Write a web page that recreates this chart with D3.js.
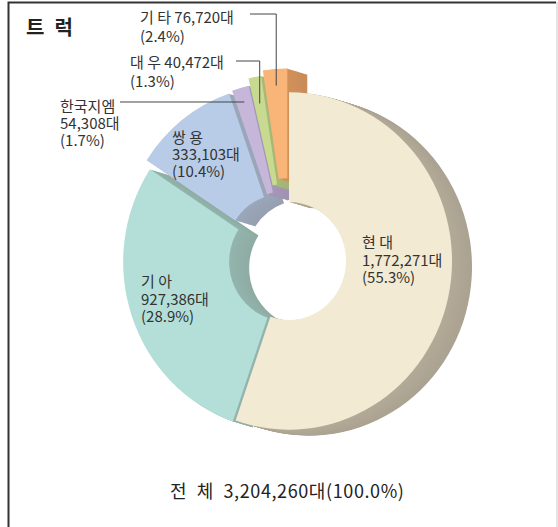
<!DOCTYPE html>
<html>
<head>
<meta charset="utf-8">
<script src="https://cdn.jsdelivr.net/npm/d3@7"></script>
<style>
body{margin:0;background:#fff;}
text{font-family:"Noto Sans CJK KR","Noto Sans",sans-serif;}
</style>
</head>
<body>
<svg id="chart" width="558" height="527"></svg>
<script>
// data
var makers = ["현 대", "기 아", "쌍 용", "한국지엠", "대 우", "기 타"];
var units = [1772271, 927386, 333103, 54308, 40472, 76720];
var shares = [55.3, 28.9, 10.4, 1.7, 1.3, 2.4];
var totalUnits = 3204260;
var totalShare = 100.0;

// styles
var frontColors = ["#f2ead3", "#b3dfd8", "#b8cce8", "#c6b7da", "#c8da90", "#f9b577"];
var sideColors = ["#b3aa98", "#93b5ad", "#9ba7bb", "#a697b9", "#a8b978", "#d39159"];
var explode = [0, 3, 10, 11, 18, 23];

var svg = d3.select("#chart");
var fmt = d3.format(",");

// frame
svg.append("path")
    .attr("d", "M8.5,527V2.5H556")
    .attr("fill", "none")
    .attr("stroke", "#333")
    .attr("stroke-width", 2);
svg.append("line")
    .attr("x1", 557).attr("x2", 557).attr("y1", 2).attr("y2", 527)
    .attr("stroke", "#ddd").attr("stroke-width", 1.5);

// title
svg.append("text")
    .attr("x", 26).attr("y", 35)
    .attr("font-size", 20).attr("font-weight", "bold").attr("fill", "#222")
    .text("트\u2002럭");

var cx = 289, cy = 261, R = 163, r = 57, sy = 1.035;
var g = svg.append("g")
    .attr("transform", "translate(" + cx + "," + cy + ") scale(1," + sy + ")");

var pie = d3.pie().sort(null).value(function(d){ return d; });
var slices = pie(units);
var arc = d3.arc().innerRadius(r).outerRadius(R);

function shift(d, i){
    var a = (d.startAngle + d.endAngle) / 2;
    return [Math.sin(a) * explode[i], -Math.cos(a) * explode[i]];
}

// 3d sides: stacked copies pushed to the right / down
var depth = 20, ddx = 20, ddy = 6 / sy;
for (let k = depth; k >= 1; k--) {
    g.append("g").selectAll("path")
        .data(slices)
        .enter()
        .append("path")
        .attr("d", arc)
        .attr("fill", function(d, i){
            return d3.interpolateRgb(sideColors[i], "#6f6a60")(0.12 * k / depth);
        })
        .attr("transform", function(d, i){
            var s = shift(d, i);
            return "translate(" + (s[0] + ddx * k / depth) + "," + (s[1] + ddy * k / depth) + ")";
        });
}

// front faces
g.append("g").selectAll("path")
    .data(slices)
    .enter()
    .append("path")
    .attr("d", arc)
    .attr("fill", function(d, i){ return frontColors[i]; })
    .attr("transform", function(d, i){
        var s = shift(d, i);
        return "translate(" + s[0] + "," + s[1] + ")";
    });

// point on a slice in screen coords
function pt(i, rad){
    var d = slices[i], a = (d.startAngle + d.endAngle) / 2;
    var rr = rad + explode[i];
    return [cx + Math.sin(a) * rr, cy - Math.cos(a) * rr * sy];
}

function block(x, y, lines, gap){
    var t = svg.append("text")
        .attr("x", x).attr("y", y)
        .attr("font-size", 15).attr("fill", "#333");
    lines.forEach(function(s, j){
        t.append("tspan").attr("x", x).attr("dy", j ? gap : 0).text(s);
    });
}
function pctText(i){ return "(" + shares[i].toFixed(1) + "%)"; }

// labels inside the big slices
block(362, 248, [makers[0], fmt(units[0]) + "대", pctText(0)], 17.5);
block(141, 287, [makers[1], fmt(units[1]) + "대", pctText(1)], 17.5);
block(172, 143, [makers[2], fmt(units[2]) + "대", pctText(2)], 17);

// outside labels with leader lines
block(60, 112, [makers[3], fmt(units[3]) + "대", pctText(3)], 17);
block(130, 68, [makers[4] + " " + fmt(units[4]) + "대", pctText(4)], 19);
block(140, 23, [makers[5] + " " + fmt(units[5]) + "대", pctText(5)], 19);

var p3 = pt(3, 149), p4 = pt(4, 137), p5 = pt(5, 147);
var leader = svg.append("g").attr("fill", "none").attr("stroke", "#444").attr("stroke-width", 1);
leader.append("path").attr("d", "M120," + p3[1] + "H" + p3[0]);
leader.append("path").attr("d", "M236,61H" + p4[0] + "V" + p4[1]);
leader.append("path").attr("d", "M250,14H" + p5[0] + "V" + p5[1]);

// total
svg.append("text")
    .attr("x", 170).attr("y", 498)
    .attr("font-size", 18).attr("fill", "#222")
    .attr("letter-spacing", 0.6)
    .text("전\u2002체\u2002" + fmt(totalUnits) + "대(" + totalShare.toFixed(1) + "%)");
</script>
</body>
</html>
